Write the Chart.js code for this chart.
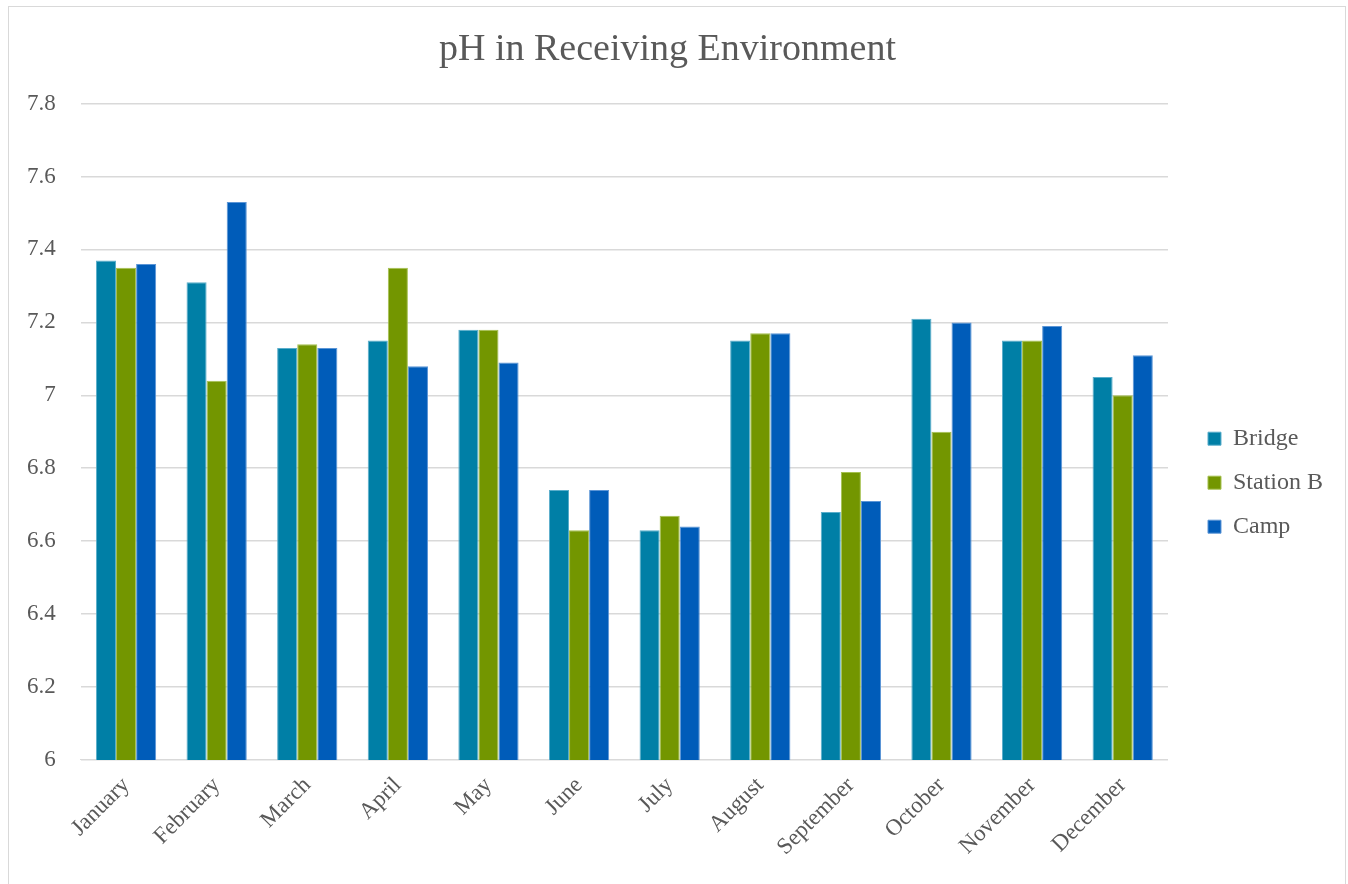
<!DOCTYPE html>
<html lang="en">
<head>
    <meta charset="UTF-8">
    <title>pH in Receiving Environment</title>
    <style>
        html, body { margin: 0; padding: 0; background: #fff; }
        .frame {
            position: absolute; left: 8px; top: 6px; width: 1338px; height: 900px;
            border: 1px solid #d9d9d9; box-sizing: border-box;
        }
        .chart-box { position: absolute; left: 0; top: 0; width: 1348px; height: 884px; }
    </style>
    <script src="https://cdn.jsdelivr.net/npm/chart.js"></script>
</head>
<body>
    <div class="frame"></div>
    <div class="chart-box">
        <canvas id="phChart"></canvas>
    </div>

<script>
// Monthly pH readings at each site
const months = ['January', 'February', 'March', 'April', 'May', 'June',
                'July', 'August', 'September', 'October', 'November', 'December'];
const bridge   = [7.37, 7.31, 7.13, 7.15, 7.18, 6.74, 6.63, 7.15, 6.68, 7.21, 7.15, 7.05];
const stationB = [7.35, 7.04, 7.14, 7.35, 7.18, 6.63, 6.67, 7.17, 6.79, 6.90, 7.15, 7.00];
const camp     = [7.36, 7.53, 7.13, 7.08, 7.09, 6.74, 6.64, 7.17, 6.71, 7.20, 7.19, 7.11];

const serif = "'Liberation Serif', 'DejaVu Serif', serif";
const textGrey = '#595959';
const gridGrey = '#d9d9d9';

function series(label, data, color, edge) {
    return {
        label: label,
        data: data,
        backgroundColor: color,
        borderColor: edge,
        borderWidth: 1,
        categoryPercentage: 0.665,
        barPercentage: 1.0
    };
}

const ctx = document.getElementById('phChart').getContext('2d');
const phChart = new Chart(ctx, {
    type: 'bar',
    data: {
        labels: months,
        datasets: [
            series('Bridge', bridge, '#007fa6', '#5aaecb'),
            series('Station B', stationB, '#739600', '#a5c04f'),
            series('Camp', camp, '#005cb9', '#5b95d6')
        ]
    },
    options: {
        responsive: true,
        maintainAspectRatio: false,
        animation: false,
        layout: { padding: { left: 2, right: 15, top: 14, bottom: 19 } },
        plugins: {
            title: {
                display: true,
                text: 'pH in Receiving Environment',
                color: textGrey,
                font: { family: serif, size: 38, weight: 'normal' },
                padding: { top: 13, bottom: 31 }
            },
            legend: {
                position: 'right',
                // blank legend title only pushes the items down a bit
                title: { display: true, text: '', padding: { top: 72, bottom: 0 } },
                labels: {
                    color: textGrey,
                    font: { family: serif, size: 24 },
                    boxWidth: 13,
                    boxHeight: 13,
                    padding: 20
                }
            },
            tooltip: { enabled: false }
        },
        scales: {
            x: {
                grid: { display: false },
                border: { color: gridGrey, width: 1 },
                ticks: {
                    color: textGrey,
                    font: { family: serif, size: 23 },
                    minRotation: 45,
                    maxRotation: 45,
                    padding: 4
                },
                afterFit: (scale) => { scale.paddingLeft = 0; scale.paddingRight = 0; }
            },
            y: {
                min: 6,
                max: 7.8,
                ticks: {
                    stepSize: 0.2,
                    color: textGrey,
                    font: { family: serif, size: 23 },
                    padding: 25,
                    callback: (v) => String(+v.toFixed(1))
                },
                grid: { color: gridGrey, lineWidth: 1.5, drawTicks: false },
                border: { display: false }
            },
            // empty spacer between the plot and the legend
            gap: {
                type: 'linear',
                position: 'right',
                grid: { display: false },
                border: { display: false },
                ticks: { display: false },
                afterFit: (scale) => { scale.width = 20; }
            }
        }
    }
});
</script>
</body>
</html>
